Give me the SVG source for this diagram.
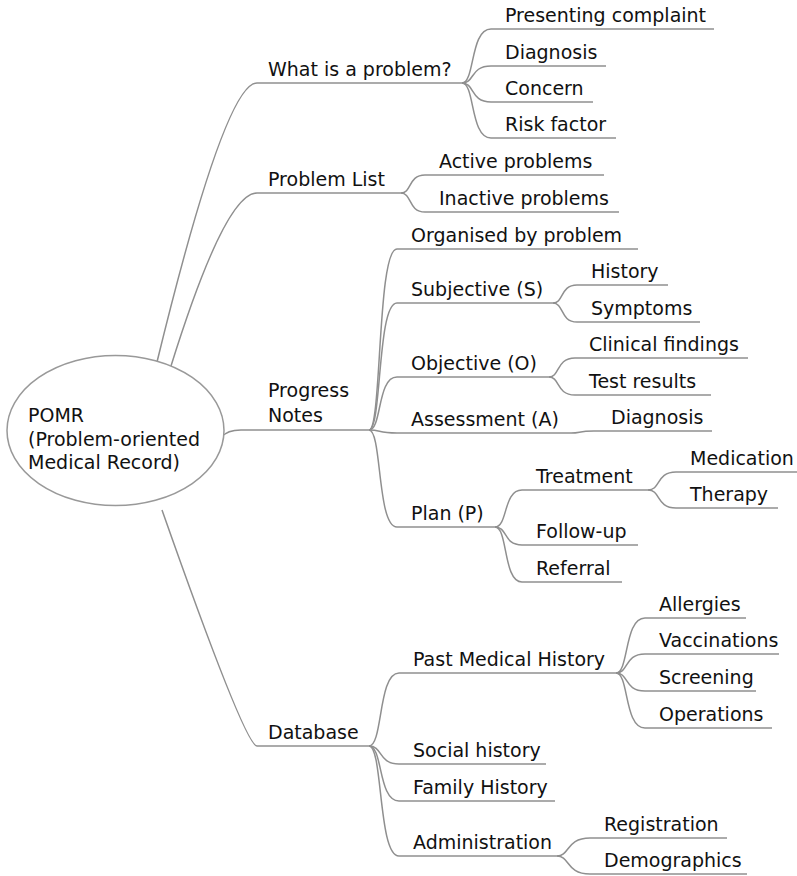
<svg xmlns="http://www.w3.org/2000/svg" width="797" height="876" viewBox="0 0 797 876">
  <style>
    .t { font-family: "DejaVu Sans", "Noto Sans", sans-serif; font-size: 19px; fill: #111111; }
    .u { stroke: #8f8f8f; stroke-width: 1.5; fill: none; }
    .c { stroke: #8f8f8f; stroke-width: 1.5; fill: none; }
  </style>
  <rect width="797" height="876" fill="#ffffff"/>

  <!-- branch connectors -->
  <g id="connectors">
    <!-- root to first level -->
    <path class="c" d="M157 362 Q225 83 257 83"/>
    <path class="c" d="M171 366 Q225 193 257 193"/>
    <path class="c" d="M222 437 Q227 430 241 430"/>
    <path class="c" d="M162 510 Q245 746 257 746"/>
    <!-- What is a problem? -->
    <path class="c" d="M462 83 C475 83 470 29 491 29"/>
    <path class="c" d="M462 83 C475 83 470 66 491 66"/>
    <path class="c" d="M462 83 C475 83 470 102 491 102"/>
    <path class="c" d="M462 83 C475 83 470 138 491 138"/>
    <!-- Problem List -->
    <path class="c" d="M401 193 C412 193 408 175 425 175"/>
    <path class="c" d="M401 193 C412 193 408 212 425 212"/>
    <!-- Progress Notes -->
    <path class="c" d="M369 430 C382 430 377 249 397 249"/>
    <path class="c" d="M369 430 C382 430 377 303 397 303"/>
    <path class="c" d="M369 430 C382 430 377 377 397 377"/>
    <path class="c" d="M369 430 C382 430 377 433 397 433"/>
    <path class="c" d="M369 430 C382 430 377 527 397 527"/>
    <!-- Subjective / Objective / Assessment -->
    <path class="c" d="M553 303 C564 303 560 285 577 285"/>
    <path class="c" d="M553 303 C564 303 560 322 577 322"/>
    <path class="c" d="M549 377 C560 377 556 358 575 358"/>
    <path class="c" d="M549 377 C560 377 556 395 575 395"/>
    <path class="c" d="M571 433 C581 433 578 431 594 431"/>
    <!-- Plan and Treatment -->
    <path class="c" d="M495 527 C508 527 503 490 522 490"/>
    <path class="c" d="M495 527 C508 527 503 545 522 545"/>
    <path class="c" d="M495 527 C508 527 503 582 522 582"/>
    <path class="c" d="M648 490 C661 490 656 472 676 472"/>
    <path class="c" d="M648 490 C661 490 656 508 676 508"/>
    <!-- Database -->
    <path class="c" d="M369 746 C383 746 378 673 399 673"/>
    <path class="c" d="M369 746 C383 746 378 764 399 764"/>
    <path class="c" d="M369 746 C383 746 378 801 399 801"/>
    <path class="c" d="M369 746 C383 746 378 856 399 856"/>
    <path class="c" d="M616 673 C629 673 624 618 645 618"/>
    <path class="c" d="M616 673 C629 673 624 654 645 654"/>
    <path class="c" d="M616 673 C629 673 624 691 645 691"/>
    <path class="c" d="M616 673 C629 673 624 728 645 728"/>
    <path class="c" d="M557 856 C570 856 566 838 590 838"/>
    <path class="c" d="M557 856 C570 856 566 874 590 874"/>
  </g>

  <!-- central topic -->
  <g id="root">
    <ellipse cx="115.5" cy="430.5" rx="108.5" ry="75" fill="#ffffff" stroke="#999999" stroke-width="1.5"/>
    <text class="t" x="28" y="422">POMR</text>
    <text class="t" x="28" y="446">(Problem-oriented</text>
    <text class="t" x="28" y="469">Medical Record)</text>
  </g>

  <!-- first level -->
  <g id="what-is-a-problem"><line class="u" x1="257" y1="83" x2="462" y2="83"/><text class="t" x="268" y="76">What is a problem?</text></g>
  <g id="problem-list"><line class="u" x1="257" y1="193" x2="401" y2="193"/><text class="t" x="268" y="186">Problem List</text></g>
  <g id="progress-notes"><line class="u" x1="241" y1="430" x2="369" y2="430"/><text class="t" x="268" y="397">Progress</text><text class="t" x="268" y="422">Notes</text></g>
  <g id="database"><line class="u" x1="257" y1="746" x2="369" y2="746"/><text class="t" x="268" y="739">Database</text></g>

  <!-- What is a problem? -->
  <g id="presenting-complaint"><line class="u" x1="491" y1="29" x2="714" y2="29"/><text class="t" x="505" y="22">Presenting complaint</text></g>
  <g id="diagnosis-1"><line class="u" x1="491" y1="66" x2="606" y2="66"/><text class="t" x="505" y="59">Diagnosis</text></g>
  <g id="concern"><line class="u" x1="491" y1="102" x2="593" y2="102"/><text class="t" x="505" y="95">Concern</text></g>
  <g id="risk-factor"><line class="u" x1="491" y1="138" x2="616" y2="138"/><text class="t" x="505" y="131">Risk factor</text></g>

  <!-- Problem List -->
  <g id="active-problems"><line class="u" x1="425" y1="175" x2="604" y2="175"/><text class="t" x="439" y="168">Active problems</text></g>
  <g id="inactive-problems"><line class="u" x1="425" y1="212" x2="619" y2="212"/><text class="t" x="439" y="205">Inactive problems</text></g>

  <!-- Progress Notes -->
  <g id="organised-by-problem"><line class="u" x1="397" y1="249" x2="638" y2="249"/><text class="t" x="411" y="242">Organised by problem</text></g>
  <g id="subjective"><line class="u" x1="397" y1="303" x2="553" y2="303"/><text class="t" x="411" y="296">Subjective (S)</text></g>
  <g id="objective"><line class="u" x1="397" y1="377" x2="549" y2="377"/><text class="t" x="411" y="370">Objective (O)</text></g>
  <g id="assessment"><line class="u" x1="397" y1="433" x2="571" y2="433"/><text class="t" x="411" y="426">Assessment (A)</text></g>
  <g id="plan"><line class="u" x1="397" y1="527" x2="495" y2="527"/><text class="t" x="411" y="520">Plan (P)</text></g>

  <g id="history"><line class="u" x1="577" y1="285" x2="668" y2="285"/><text class="t" x="591" y="278">History</text></g>
  <g id="symptoms"><line class="u" x1="577" y1="322" x2="700" y2="322"/><text class="t" x="591" y="315">Symptoms</text></g>
  <g id="clinical-findings"><line class="u" x1="575" y1="358" x2="748" y2="358"/><text class="t" x="589" y="351">Clinical findings</text></g>
  <g id="test-results"><line class="u" x1="575" y1="395" x2="711" y2="395"/><text class="t" x="589" y="388">Test results</text></g>
  <g id="diagnosis-2"><line class="u" x1="594" y1="431" x2="712" y2="431"/><text class="t" x="611" y="424">Diagnosis</text></g>

  <g id="treatment"><line class="u" x1="522" y1="490" x2="648" y2="490"/><text class="t" x="536" y="483">Treatment</text></g>
  <g id="follow-up"><line class="u" x1="522" y1="545" x2="638" y2="545"/><text class="t" x="536" y="538">Follow-up</text></g>
  <g id="referral"><line class="u" x1="522" y1="582" x2="622" y2="582"/><text class="t" x="536" y="575">Referral</text></g>
  <g id="medication"><line class="u" x1="676" y1="472" x2="797" y2="472"/><text class="t" x="690" y="465">Medication</text></g>
  <g id="therapy"><line class="u" x1="676" y1="508" x2="778" y2="508"/><text class="t" x="690" y="501">Therapy</text></g>

  <!-- Database -->
  <g id="past-medical-history"><line class="u" x1="399" y1="673" x2="616" y2="673"/><text class="t" x="413" y="666">Past Medical History</text></g>
  <g id="social-history"><line class="u" x1="399" y1="764" x2="546" y2="764"/><text class="t" x="413" y="757">Social history</text></g>
  <g id="family-history"><line class="u" x1="399" y1="801" x2="555" y2="801"/><text class="t" x="413" y="794">Family History</text></g>
  <g id="administration"><line class="u" x1="399" y1="856" x2="557" y2="856"/><text class="t" x="413" y="849">Administration</text></g>

  <g id="allergies"><line class="u" x1="645" y1="618" x2="746" y2="618"/><text class="t" x="659" y="611">Allergies</text></g>
  <g id="vaccinations"><line class="u" x1="645" y1="654" x2="779" y2="654"/><text class="t" x="659" y="647">Vaccinations</text></g>
  <g id="screening"><line class="u" x1="645" y1="691" x2="756" y2="691"/><text class="t" x="659" y="684">Screening</text></g>
  <g id="operations"><line class="u" x1="645" y1="728" x2="772" y2="728"/><text class="t" x="659" y="721">Operations</text></g>
  <g id="registration"><line class="u" x1="590" y1="838" x2="727" y2="838"/><text class="t" x="604" y="831">Registration</text></g>
  <g id="demographics"><line class="u" x1="590" y1="874" x2="747" y2="874"/><text class="t" x="604" y="867">Demographics</text></g>
</svg>
